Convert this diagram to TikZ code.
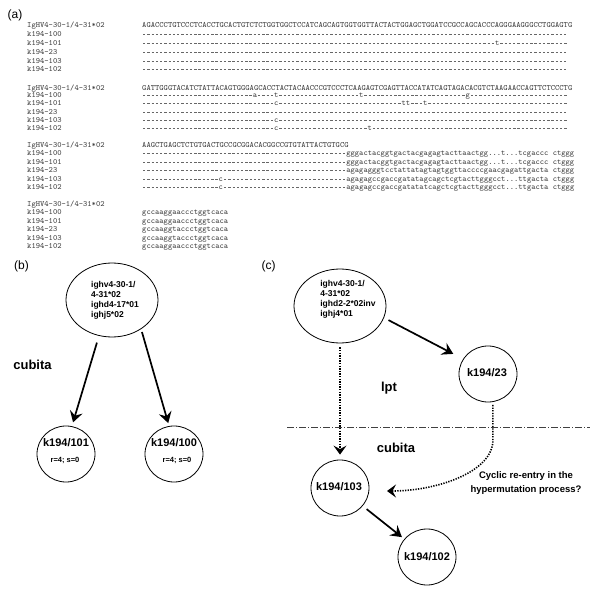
\documentclass[tikz,border=0pt]{standalone}
\usepackage{fontspec}
\setsansfont{Liberation Sans}
\usetikzlibrary{shapes.geometric,arrows.meta}
\newcommand\onedash{\hbox to 4.2525pt{\hss\textcolor{black!60}{\rule[2.0pt]{2.3pt}{0.5pt}}\hss}}
\newcommand\dsh[1]{\foreach\k in {1,...,#1}{\onedash}}
\tikzset{
  seq/.style={anchor=base west, inner sep=0pt, font=\fontsize{8.1}{9}\selectfont\ttfamily, text=black!75},
  plab/.style={inner sep=0pt, font=\fontsize{12}{14}\selectfont\sffamily},
  gene/.style={inner sep=0pt, align=left, font=\fontsize{8.5}{10}\selectfont\sffamily\bfseries},
  big/.style={inner sep=0pt, font=\fontsize{11}{13}\selectfont\sffamily\bfseries},
  small/.style={inner sep=0pt, font=\fontsize{7.5}{9}\selectfont\sffamily\bfseries},
  tiss/.style={inner sep=0pt, font=\fontsize{13}{15}\selectfont\sffamily\bfseries},
  note/.style={inner sep=0pt, align=center, font=\fontsize{9.5}{13.5}\selectfont\sffamily\bfseries},
  ell/.style={draw, ellipse, line width=0.8pt, minimum width=92pt, minimum height=74pt, inner sep=0pt},
  circ/.style={draw, ellipse, line width=0.8pt, minimum width=58pt, minimum height=56pt, inner sep=0pt},
  arr/.style={line width=1.7pt, -{Stealth[length=11pt,width=13pt,inset=4pt]}},
  dotarr/.style={line width=1.6pt, dash pattern=on 1.3pt off 1.3pt, -{Stealth[length=9pt,width=13pt,inset=3.5pt]}},
  sepline/.style={line width=0.6pt, black!75, dash pattern=on 7pt off 2pt on 1pt off 2pt}
}
\begin{document}
\begin{tikzpicture}[x=1pt,y=-1pt]
\fill[white] (0,0) rectangle (600,596);
\useasboundingbox (0,0) rectangle (600,596);

% ---------------- panel (a)
\node[plab] (la) at (15,15) {(a)};

% block 1
\node[seq] (n1h) at (27,27.5) {IgHV4-30-1/4-31*02};
\node[seq] (n1a) at (27,36.5) {k194-100};
\node[seq] (n1b) at (27,45.5) {k194-101};
\node[seq] (n1c) at (27,54.5) {k194-23};
\node[seq] (n1d) at (27,63.5) {k194-103};
\node[seq] (n1e) at (27,71.5) {k194-102};
\node[seq] (s1h) at (142,27.5) {AGACCCTGTCCCTCACCTGCACTGTCTCTGGTGGCTCCATCAGCAGTGGTGGTTACTACTGGAGCTGGATCCGCCAGCACCCAGGGAAGGGCCTGGAGTG};
\node[seq] (s1a) at (142,36.5) {\dsh{100}};
\node[seq] (s1b) at (142,45.5) {\dsh{83}t\dsh{16}};
\node[seq] (s1c) at (142,54.5) {\dsh{100}};
\node[seq] (s1d) at (142,63.5) {\dsh{100}};
\node[seq] (s1e) at (142,71.5) {\dsh{100}};

% block 2
\node[seq] (n2h) at (27,90.2) {IgHV4-30-1/4-31*02};
\node[seq] (n2a) at (27,98) {k194-100};
\node[seq] (n2b) at (27,106) {k194-101};
\node[seq] (n2c) at (27,114.2) {k194-23};
\node[seq] (n2d) at (27,122.5) {k194-103};
\node[seq] (n2e) at (27,130.5) {k194-102};
\node[seq] (s2h) at (142,90.2) {GATTGGGTACATCTATTACAGTGGGAGCACCTACTACAACCCGTCCCTCAAGAGTCGAGTTACCATATCAGTAGACACGTCTAAGAACCAGTTCTCCCTG};
\node[seq] (s2a) at (142,98) {\dsh{26}a\dsh{4}t\dsh{19}t\dsh{24}g\dsh{23}};
\node[seq] (s2b) at (142,106) {\dsh{31}c\dsh{29}tt\dsh{3}t\dsh{33}};
\node[seq] (s2c) at (142,114.2) {\dsh{100}};
\node[seq] (s2d) at (142,122.5) {\dsh{31}c\dsh{68}};
\node[seq] (s2e) at (142,130.5) {\dsh{31}c\dsh{21}t\dsh{46}};

% block 3
\node[seq] (n3h) at (27,147.5) {IgHV4-30-1/4-31*02};
\node[seq] (n3a) at (27,155.8) {k194-100};
\node[seq] (n3b) at (27,164.5) {k194-101};
\node[seq] (n3c) at (27,173) {k194-23};
\node[seq] (n3d) at (27,181.5) {k194-103};
\node[seq] (n3e) at (27,189.8) {k194-102};
\node[seq] (s3h) at (142,147.5) {AAGCTGAGCTCTGTGACTGCCGCGGACACGGCCGTGTATTACTGTGCG};
\node[seq] (s3a) at (142,155.8) {\dsh{48}gggactacggtgactacgagagtacttaactgg...t...tcgaccc ctggg};
\node[seq] (s3b) at (142,164.5) {\dsh{48}gggactacggtgactacgagagtacttaactgg...t...tcgaccc ctggg};
\node[seq] (s3c) at (142,173) {\dsh{48}agagagggtcctattatagtagtggttaccccgaacgagattgacta ctggg};
\node[seq] (s3d) at (142,181.5) {\dsh{18}c\dsh{29}agagagccgaccgatatagcagctcgtacttgggcct...ttgacta ctggg};
\node[seq] (s3e) at (142,189.8) {\dsh{18}c\dsh{29}agagagccgaccgatatatcagctcgtacttgggcct...ttgacta ctggg};

% block 4
\node[seq] (n4h) at (27,206.5) {IgHV4-30-1/4-31*02};
\node[seq] (n4a) at (27,215) {k194-100};
\node[seq] (n4b) at (27,223.5) {k194-101};
\node[seq] (n4c) at (27,232) {k194-23};
\node[seq] (n4d) at (27,240.5) {k194-103};
\node[seq] (n4e) at (27,249) {k194-102};
\node[seq] (s4a) at (142,215) {gccaaggaaccctggtcaca};
\node[seq] (s4b) at (142,223.5) {gccaaggaaccctggtcaca};
\node[seq] (s4c) at (142,232) {gccaaggtaccctggtcaca};
\node[seq] (s4d) at (142,240.5) {gccaaggtaccctggtcaca};
\node[seq] (s4e) at (142,249) {gccaaggaaccctggtcaca};

% ---------------- panel (b)
\node[plab] (lb) at (21.5,266) {(b)};
\node[ell] (bR) at (112,300) {};
\node[gene] (bRt) at (115,300.5) {ighv4-30-1/\\4-31*02\\ighd4-17*01\\ighj5*02};
\node[tiss] (bcub) at (32.5,365) {cubita};
\node[circ] (b101) at (66,454) {};
\node[big] (b101t) at (66,443) {k194/101};
\node[small] (b101s) at (65,460) {r=4; s=0};
\node[circ] (b100) at (174,454) {};
\node[big] (b100t) at (174,443) {k194/100};
\node[small] (b100s) at (177,460) {r=4; s=0};
\draw[arr, shorten <=7pt, shorten >=4pt] (bR.-110) -- (b101.78);
\draw[arr, shorten <=3pt, shorten >=3pt] (bR.-45) -- (b100.100);

% ---------------- panel (c)
\node[plab] (lc) at (268.5,266) {(c)};
\node[ell] (cR) at (340,306) {};
\node[gene] (cRt) at (348,299) {ighv4-30-1/\\4-31*02\\ighd2-2*02inv\\ighj4*01};
\node[circ] (c23) at (488,374) {};
\node[big] (c23t) at (487,373) {k194/23};
\node[tiss] (clpt) at (389,388) {lpt};
\node[tiss] (ccub) at (396,448) {cubita};
\node[circ] (c103) at (340,488) {};
\node[big] (c103t) at (339,487) {k194/103};
\node[circ] (c102) at (427,557) {};
\node[big] (c102t) at (427,557) {k194/102};
\node[note] (cnote) at (526,483) {Cyclic re-entry in the\\hypermutation process?};
\coordinate (sepL) at (287,427);
\coordinate (sepR) at (590,427);
\coordinate (cyctip) at (387,491);
\draw[sepline] (sepL) -- (sepR);
\draw[arr, shorten <=5pt, shorten >=11pt] (cR.-15) -- (c23.149);
\draw[dotarr, shorten <=4pt, shorten >=5pt] (cR.south) -- (c103.north);
\draw[arr, shorten <=5pt, shorten >=3pt] (c103) -- (c102);
\draw[dotarr, shorten <=3pt] (c23.-80) -- ++(0,38) .. controls +(0,32) and +(50,0) .. (cyctip);
\end{tikzpicture}
\end{document}
